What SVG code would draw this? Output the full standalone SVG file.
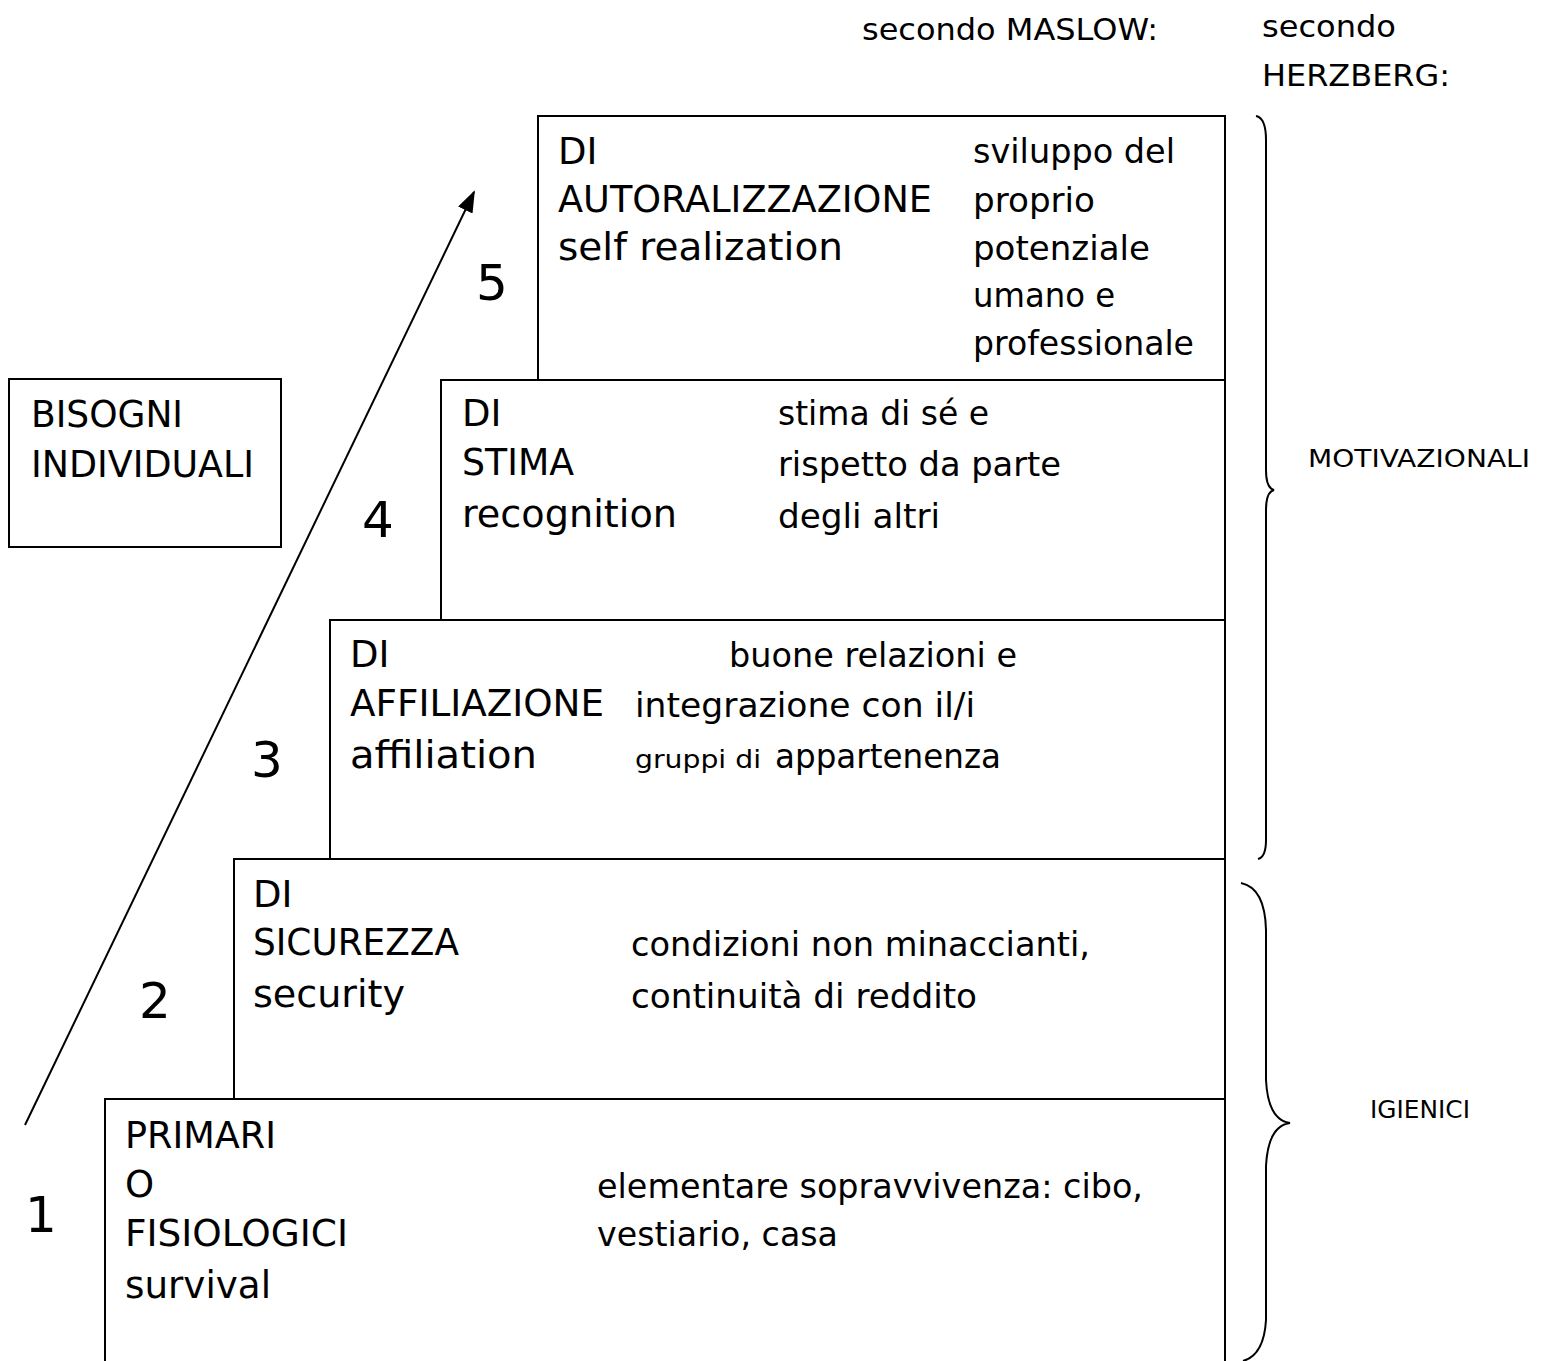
<svg xmlns="http://www.w3.org/2000/svg" width="1547" height="1361" viewBox="0 0 1547 1361">
<style>
text{font-family:"DejaVu Sans","Liberation Sans",sans-serif;fill:#000}
.b{fill:#fff;stroke:#000;stroke-width:2}
.t{font-size:37px}
.s{font-size:33px}
.n{font-size:50px}
.h{font-size:31px}
.m{font-size:24px}
.br{fill:none;stroke:#000;stroke-width:2}
</style>
<defs>
<marker id="ah" markerWidth="22" markerHeight="16" refX="20" refY="8" orient="auto" markerUnits="userSpaceOnUse" viewBox="0 0 22 16">
<path d="M0,0 L22,8 L0,16 z" fill="#000"/>
</marker>
</defs>
<rect width="1547" height="1361" fill="#fff"/>
<text class="h" x="862" y="40" textLength="296" lengthAdjust="spacingAndGlyphs">secondo MASLOW:</text>
<text class="h" x="1262" y="37" textLength="134" lengthAdjust="spacingAndGlyphs">secondo</text>
<text class="h" x="1262" y="86" textLength="188" lengthAdjust="spacingAndGlyphs">HERZBERG:</text>
<g id="n-bisogni">
<rect class="b" x="9" y="379" width="272" height="168"/>
<text class="t" x="31" y="427" textLength="152" lengthAdjust="spacingAndGlyphs">BISOGNI</text>
<text class="t" x="31" y="477" textLength="223" lengthAdjust="spacingAndGlyphs">INDIVIDUALI</text>
</g>
<g id="n-level1">
<rect class="b" x="105" y="1099" width="1120" height="270"/>
<text class="t" x="125" y="1148" textLength="151" lengthAdjust="spacingAndGlyphs">PRIMARI</text>
<text class="t" x="125" y="1197">O</text>
<text class="t" x="125" y="1246" textLength="223" lengthAdjust="spacingAndGlyphs">FISIOLOGICI</text>
<text class="t" x="125" y="1298" textLength="146" lengthAdjust="spacingAndGlyphs">survival</text>
<text class="s" x="597" y="1198" textLength="546" lengthAdjust="spacingAndGlyphs">elementare sopravvivenza: cibo,</text>
<text class="s" x="597" y="1246" textLength="241" lengthAdjust="spacingAndGlyphs">vestiario, casa</text>
<text class="n" x="25" y="1232">1</text>
</g>
<g id="n-level2">
<rect class="b" x="234" y="859" width="991" height="240"/>
<text class="t" x="253" y="907">DI</text>
<text class="t" x="253" y="955" textLength="206" lengthAdjust="spacingAndGlyphs">SICUREZZA</text>
<text class="t" x="253" y="1007" textLength="152" lengthAdjust="spacingAndGlyphs">security</text>
<text class="s" x="631" y="956" textLength="459" lengthAdjust="spacingAndGlyphs">condizioni non minaccianti,</text>
<text class="s" x="631" y="1008" textLength="346" lengthAdjust="spacingAndGlyphs">continuità di reddito</text>
<text class="n" x="139" y="1018">2</text>
</g>
<g id="n-level3">
<rect class="b" x="330" y="620" width="895" height="239"/>
<text class="t" x="350" y="667">DI</text>
<text class="t" x="350" y="716" textLength="254" lengthAdjust="spacingAndGlyphs">AFFILIAZIONE</text>
<text class="t" x="350" y="768" textLength="187" lengthAdjust="spacingAndGlyphs">affiliation</text>
<text class="s" x="729" y="667" textLength="288" lengthAdjust="spacingAndGlyphs">buone relazioni e</text>
<text class="s" x="635" y="717" textLength="340" lengthAdjust="spacingAndGlyphs">integrazione con il/i</text>
<text class="m" x="635" y="768" textLength="126" lengthAdjust="spacingAndGlyphs">gruppi di</text>
<text class="s" x="775" y="768" textLength="226" lengthAdjust="spacingAndGlyphs">appartenenza</text>
<text class="n" x="251" y="777">3</text>
</g>
<g id="n-level4">
<rect class="b" x="441" y="380" width="784" height="240"/>
<text class="t" x="462" y="426">DI</text>
<text class="t" x="462" y="475" textLength="112" lengthAdjust="spacingAndGlyphs">STIMA</text>
<text class="t" x="462" y="527" textLength="215" lengthAdjust="spacingAndGlyphs">recognition</text>
<text class="s" x="778" y="425" textLength="211" lengthAdjust="spacingAndGlyphs">stima di sé e</text>
<text class="s" x="778" y="476" textLength="283" lengthAdjust="spacingAndGlyphs">rispetto da parte</text>
<text class="s" x="778" y="528" textLength="162" lengthAdjust="spacingAndGlyphs">degli altri</text>
<text class="n" x="362" y="537">4</text>
</g>
<g id="n-level5">
<rect class="b" x="538" y="116" width="687" height="264"/>
<text class="t" x="558" y="164">DI</text>
<text class="t" x="558" y="212" textLength="374" lengthAdjust="spacingAndGlyphs">AUTORALIZZAZIONE</text>
<text class="t" x="558" y="260" textLength="285" lengthAdjust="spacingAndGlyphs">self realization</text>
<text class="s" x="973" y="163" textLength="202" lengthAdjust="spacingAndGlyphs">sviluppo del</text>
<text class="s" x="973" y="212" textLength="122" lengthAdjust="spacingAndGlyphs">proprio</text>
<text class="s" x="973" y="260" textLength="177" lengthAdjust="spacingAndGlyphs">potenziale</text>
<text class="s" x="973" y="307" textLength="142" lengthAdjust="spacingAndGlyphs">umano e</text>
<text class="s" x="973" y="355" textLength="221" lengthAdjust="spacingAndGlyphs">professionale</text>
<text class="n" x="476" y="300">5</text>
</g>
<g id="n-motivazionali">
<path class="br" d="M1256,116 Q1266,118 1266,140 L1266,470 Q1266,488 1274,490 Q1266,492 1266,510 L1266,840 Q1266,857 1258,859"/>
<text class="m" x="1308" y="467" textLength="222" lengthAdjust="spacingAndGlyphs">MOTIVAZIONALI</text>
</g>
<g id="n-igienici">
<path class="br" d="M1241,883 Q1265,888 1266,930 L1266,1080 Q1268,1120 1290,1123 Q1268,1126 1266,1166 L1266,1320 Q1264,1355 1243,1361"/>
<text class="m" x="1370" y="1118" textLength="100" lengthAdjust="spacingAndGlyphs">IGIENICI</text>
</g>
<g id="connectors">
<line x1="25" y1="1125" x2="474" y2="192" stroke="#000" stroke-width="2" marker-end="url(#ah)"/>
</g>
</svg>
